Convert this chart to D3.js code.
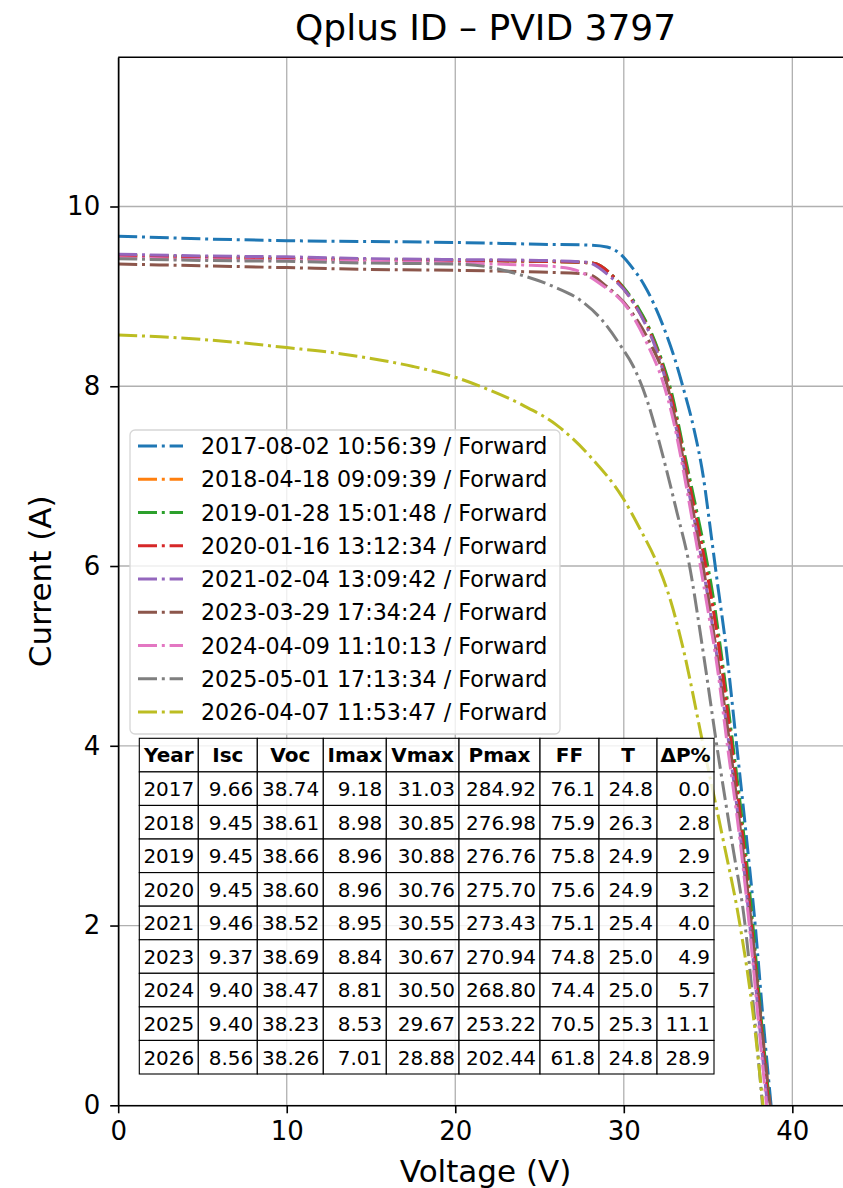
<!DOCTYPE html>
<html>
<head>
<meta charset="utf-8">
<script src="https://cdn.jsdelivr.net/npm/d3@7"></script>
<style>
    body { margin: 0; background: #fff; }
    text { font-family: "DejaVu Sans", sans-serif; fill: #000; }
</style>
</head>
<body>
<div id="chart"></div>
<script>
// measured I-V points, [voltage V, current A]
var iv2017 = [[0, 9.67], [5, 9.64], [10, 9.62], [15, 9.61], [20, 9.60], [25, 9.58], [28, 9.57], [29.0, 9.55], [29.8, 9.47], [30.5, 9.32], [31.2, 9.13], [31.8, 8.91], [32.4, 8.64], [33.0, 8.32], [33.5, 8.00], [34.13, 7.55], [34.72, 6.99], [35.2, 6.32], [35.6, 5.75], [36.0, 5.20], [36.7, 4.00], [37.3, 2.94], [37.8, 2.00], [38.25, 0.99], [38.74, 0]];
var iv2018 = [[0, 9.46], [5, 9.44], [10, 9.42], [15, 9.41], [20, 9.40], [25, 9.39], [28.2, 9.37], [29.4, 9.21], [30.2, 9.04], [30.9, 8.85], [31.6, 8.60], [32.2, 8.30], [32.9, 7.85], [33.5, 7.30], [34.13, 6.73], [34.72, 6.18], [35.22, 5.66], [35.71, 5.03], [36.41, 4.00], [37.1, 2.94], [37.6, 2.00], [38.09, 0.99], [38.61, 0]];
var iv2019 = [[0, 9.46], [5, 9.44], [10, 9.42], [15, 9.41], [20, 9.40], [25, 9.39], [28.2, 9.37], [29.4, 9.22], [30.2, 9.05], [30.9, 8.86], [31.6, 8.61], [32.2, 8.32], [32.9, 7.88], [33.5, 7.34], [34.18, 6.74], [34.8, 6.18], [35.3, 5.66], [35.78, 5.03], [36.48, 4.00], [37.16, 2.94], [37.66, 2.00], [38.14, 0.99], [38.66, 0]];
var iv2020 = [[0, 9.45], [5, 9.43], [10, 9.42], [15, 9.41], [20, 9.40], [25, 9.39], [28.2, 9.37], [29.38, 9.22], [30.2, 9.03], [30.9, 8.83], [31.6, 8.58], [32.2, 8.28], [32.9, 7.82], [33.5, 7.28], [34.1, 6.72], [34.7, 6.16], [35.2, 5.64], [35.7, 5.03], [36.4, 4.00], [37.08, 2.94], [37.58, 2.00], [38.08, 0.99], [38.60, 0]];
var iv2021 = [[0, 9.47], [5, 9.45], [10, 9.44], [15, 9.42], [20, 9.41], [25, 9.40], [27.8, 9.38], [29.19, 9.22], [30.37, 8.99], [31.2, 8.72], [31.9, 8.42], [32.6, 7.98], [33.2, 7.45], [33.8, 6.88], [34.4, 6.30], [34.95, 5.70], [35.5, 5.03], [36.25, 4.00], [36.95, 2.94], [37.48, 2.00], [38.0, 0.99], [38.52, 0]];
var iv2023 = [[0, 9.36], [5, 9.34], [10, 9.32], [15, 9.30], [20, 9.29], [25, 9.27], [27.8, 9.25], [28.99, 9.11], [30.37, 8.85], [31.56, 8.48], [32.55, 8.03], [33.2, 7.50], [33.8, 6.92], [34.4, 6.32], [34.95, 5.72], [35.5, 5.05], [36.3, 4.00], [37.0, 2.94], [37.58, 2.00], [38.12, 0.99], [38.69, 0]];
var iv2024 = [[0, 9.43], [5, 9.41], [10, 9.40], [15, 9.39], [20, 9.37], [24, 9.35], [26, 9.33], [27.2, 9.29], [28.6, 9.14], [30.18, 8.88], [31.37, 8.48], [32.35, 8.03], [32.94, 7.62], [33.5, 7.10], [34.0, 6.58], [34.5, 6.05], [35.0, 5.50], [35.45, 5.00], [36.15, 4.00], [36.9, 2.94], [37.45, 2.00], [37.96, 0.99], [38.47, 0]];
var iv2025 = [[0, 9.42], [5, 9.40], [10, 9.39], [15, 9.37], [20, 9.36], [21.87, 9.33], [23.85, 9.24], [25.82, 9.11], [27.4, 8.96], [28.6, 8.76], [29.78, 8.46], [30.57, 8.22], [31.37, 7.85], [32.0, 7.45], [32.6, 7.02], [33.15, 6.60], [33.84, 6.06], [34.72, 5.03], [35.52, 4.00], [36.41, 2.94], [37.2, 2.00], [37.75, 0.99], [38.23, 0]];
var iv2026 = [[0, 8.57], [2.5, 8.55], [5, 8.52], [7.5, 8.48], [10, 8.43], [12.5, 8.38], [15, 8.31], [17.5, 8.22], [20, 8.10], [22, 7.96], [24, 7.79], [26, 7.57], [28, 7.22], [30, 6.74], [31.0, 6.40], [32.0, 6.02], [32.8, 5.60], [33.5, 5.10], [34.72, 4.00], [35.91, 2.94], [36.9, 2.00], [37.69, 0.99], [38.26, 0]];

var seriesLabels = [
    "2017-08-02 10:56:39 / Forward",
    "2018-04-18 09:09:39 / Forward",
    "2019-01-28 15:01:48 / Forward",
    "2020-01-16 13:12:34 / Forward",
    "2021-02-04 13:09:42 / Forward",
    "2023-03-29 17:34:24 / Forward",
    "2024-04-09 11:10:13 / Forward",
    "2025-05-01 17:13:34 / Forward",
    "2026-04-07 11:53:47 / Forward"
];
var seriesPoints = [iv2017, iv2018, iv2019, iv2020, iv2021, iv2023, iv2024, iv2025, iv2026];

var xTicks = [0, 10, 20, 30, 40];
var yTicks = [0, 2, 4, 6, 8, 10];

var tableHeader = ["Year", "Isc", "Voc", "Imax", "Vmax", "Pmax", "FF", "T", "ΔP%"];
var tableRows = [
    ["2017", "9.66", "38.74", "9.18", "31.03", "284.92", "76.1", "24.8", "0.0"],
    ["2018", "9.45", "38.61", "8.98", "30.85", "276.98", "75.9", "26.3", "2.8"],
    ["2019", "9.45", "38.66", "8.96", "30.88", "276.76", "75.8", "24.9", "2.9"],
    ["2020", "9.45", "38.60", "8.96", "30.76", "275.70", "75.6", "24.9", "3.2"],
    ["2021", "9.46", "38.52", "8.95", "30.55", "273.43", "75.1", "25.4", "4.0"],
    ["2023", "9.37", "38.69", "8.84", "30.67", "270.94", "74.8", "25.0", "4.9"],
    ["2024", "9.40", "38.47", "8.81", "30.50", "268.80", "74.4", "25.0", "5.7"],
    ["2025", "9.40", "38.23", "8.53", "29.67", "253.22", "70.5", "25.3", "11.1"],
    ["2026", "8.56", "38.26", "7.01", "28.88", "202.44", "61.8", "24.8", "28.9"]
];

var palette = ["#1f77b4", "#ff7f0e", "#2ca02c", "#d62728", "#9467bd", "#8c564b", "#e377c2", "#7f7f7f", "#bcbd22"];

function drawIvChart() {
    var width = 843, height = 1188;
    var margin = { top: 57.3, left: 118.2, bottom: 1105.3, right: 853 };
    var dash = "19,4.8,3,4.8";

    var svg = d3.select("#chart")
        .append("svg")
        .attr("width", width)
        .attr("height", height);

    var x = d3.scaleLinear().domain([0, 43.6]).range([margin.left, margin.right]);
    var y = d3.scaleLinear().domain([0, 11.66]).range([margin.bottom, margin.top]);

    // grid
    var grid = svg.append("g").attr("stroke", "#b0b0b0").attr("stroke-width", 1.3);
    grid.selectAll("line.gx").data(xTicks).enter().append("line")
        .attr("x1", d => x(d)).attr("x2", d => x(d))
        .attr("y1", margin.top).attr("y2", margin.bottom);
    grid.selectAll("line.gy").data(yTicks).enter().append("line")
        .attr("y1", d => y(d)).attr("y2", d => y(d))
        .attr("x1", margin.left).attr("x2", margin.right);

    // curves
    var line = d3.line()
        .x(d => x(d[0]))
        .y(d => y(d[1]))
        .curve(d3.curveMonotoneX);

    svg.append("defs").append("clipPath").attr("id", "plotClip")
        .append("rect")
        .attr("x", margin.left).attr("y", margin.top)
        .attr("width", margin.right - margin.left)
        .attr("height", margin.bottom - margin.top);

    svg.append("g")
        .attr("clip-path", "url(#plotClip)")
        .selectAll("path")
        .data(seriesPoints)
        .enter()
        .append("path")
        .attr("d", line)
        .attr("fill", "none")
        .attr("stroke", (d, i) => palette[i])
        .attr("stroke-width", 3)
        .attr("stroke-dasharray", dash);

    // axes
    var xAxis = svg.append("g")
        .attr("transform", "translate(0," + margin.bottom + ")")
        .call(d3.axisBottom(x).tickValues(xTicks).tickSize(8).tickSizeOuter(0).tickPadding(8.5));
    var yAxis = svg.append("g")
        .attr("transform", "translate(" + margin.left + ",0)")
        .call(d3.axisLeft(y).tickValues(yTicks).tickSize(8).tickSizeOuter(0).tickPadding(10));

    [xAxis, yAxis].forEach(function (ax) {
        ax.selectAll("text").style("font-family", "DejaVu Sans").style("font-size", "26px").attr("fill", "#000");
        ax.selectAll("line").attr("stroke", "#000").attr("stroke-width", 1.6);
        ax.select(".domain").attr("stroke", "#000").attr("stroke-width", 1.6);
    });

    svg.append("line")
        .attr("x1", margin.left).attr("x2", margin.right)
        .attr("y1", margin.top).attr("y2", margin.top)
        .attr("stroke", "#000").attr("stroke-width", 1.6);
    svg.append("line")
        .attr("x1", margin.right).attr("x2", margin.right)
        .attr("y1", margin.top).attr("y2", margin.bottom)
        .attr("stroke", "#000").attr("stroke-width", 1.6);

    // labels
    svg.append("text")
        .attr("x", (margin.left + margin.right) / 2).attr("y", 40)
        .attr("text-anchor", "middle").style("font-size", "36px")
        .text("Qplus ID – PVID 3797");
    svg.append("text")
        .attr("x", (margin.left + margin.right) / 2).attr("y", 1182)
        .attr("text-anchor", "middle").style("font-size", "31px")
        .text("Voltage (V)");
    svg.append("text")
        .attr("transform", "translate(51," + ((margin.top + margin.bottom) / 2) + ") rotate(-90)")
        .attr("text-anchor", "middle").style("font-size", "31px")
        .text("Current (A)");

    drawLegend(svg, dash);
    drawTable(svg);
}

function drawLegend(svg, dash) {
    var box = { x: 130, y: 430, w: 430, h: 304 };
    var rowStep = 33.25, firstRow = 446;

    var legend = svg.append("g");
    legend.append("rect")
        .attr("x", box.x).attr("y", box.y)
        .attr("width", box.w).attr("height", box.h)
        .attr("rx", 5)
        .attr("fill", "#fff").attr("fill-opacity", 0.8)
        .attr("stroke", "#d6d6d6").attr("stroke-width", 1.3);

    var items = legend.selectAll("g.item")
        .data(seriesLabels)
        .enter()
        .append("g")
        .attr("transform", (d, i) => "translate(0," + (firstRow + i * rowStep) + ")");
    items.append("line")
        .attr("x1", 138).attr("x2", 183)
        .attr("stroke", (d, i) => palette[i])
        .attr("stroke-width", 3)
        .attr("stroke-dasharray", dash);
    items.append("text")
        .attr("x", 201).attr("y", 8)
        .style("font-size", "22.2px")
        .text(d => d);
}

function drawTable(svg) {
    var colWidths = [59, 59, 66, 63, 72.7, 81, 59, 58, 57];
    var left = 139.3, top = 738.3, rowH = 33.57;
    var colX = [left];
    colWidths.forEach(w => colX.push(colX[colX.length - 1] + w));

    var rows = [tableHeader].concat(tableRows);
    var table = svg.append("g");

    rows.forEach(function (row, r) {
        row.forEach(function (cell, c) {
            var cx = colX[c], cy = top + r * rowH;
            table.append("rect")
                .attr("x", cx).attr("y", cy)
                .attr("width", colWidths[c]).attr("height", rowH)
                .attr("fill", "#fff").attr("fill-opacity", 0.82)
                .attr("stroke", "#000").attr("stroke-width", 1.1);
            var t = table.append("text")
                .attr("y", cy + rowH / 2 + 7.3)
                .style("font-size", "20px")
                .text(cell);
            if (r === 0) {
                t.attr("x", cx + colWidths[c] / 2).attr("text-anchor", "middle").style("font-weight", "bold");
            } else {
                t.attr("x", cx + colWidths[c] - 4).attr("text-anchor", "end");
            }
        });
    });
}

drawIvChart();
</script>
</body>
</html>
